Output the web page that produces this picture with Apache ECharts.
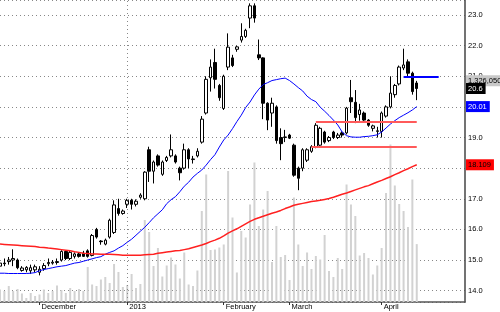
<!DOCTYPE html>
<html><head><meta charset="utf-8">
<script src="https://cdn.jsdelivr.net/npm/echarts/dist/echarts.min.js"></script>
<style>html,body{margin:0;padding:0;background:#fff}#c{width:500px;height:312px}</style>
</head><body><div id="c"></div>
<script>
// ---- data ----
const monthLabels = ['December', '2013', 'February', 'March', 'April'];
const monthIndex = [9, 29, 51, 66, 87];
const yearLineIndex = 29;
const slotCount = 107;

// [open, close, low, high]
const candles = [
[14.8,14.9,14.75,14.95],[14.9,14.88,14.8,15.05],[14.95,15.0,14.85,15.1],[15.0,15.05,14.8,15.35],[15.0,14.75,14.7,15.05],
[14.66,14.74,14.62,14.8],[14.68,14.76,14.6,14.8],[14.65,14.75,14.55,14.85],[14.68,14.78,14.6,14.85],[14.6,14.7,14.5,14.8],
[14.72,14.82,14.65,14.9],[14.88,14.92,14.8,15.05],[14.9,14.93,14.85,15.0],[14.92,14.95,14.85,15.05],[15.0,15.28,14.95,15.32],
[15.28,15.05,15.0,15.32],[15.05,15.25,15.0,15.3],[15.12,15.2,15.05,15.25],[15.2,15.12,15.08,15.25],[15.22,15.12,15.1,15.3],
[15.3,15.12,15.08,15.35],[15.15,15.8,15.12,15.85],[16.0,15.75,15.7,16.05],[15.62,15.6,15.5,15.65],[15.52,15.65,15.48,15.7],
[15.75,16.3,15.7,16.35],[15.9,16.8,15.85,16.95],[16.68,16.52,16.45,17.0],[16.52,16.6,16.48,16.65],[16.82,16.95,16.7,17.0],
[16.95,16.82,16.65,17.0],[16.82,16.92,16.75,16.98],[17.05,17.12,17.0,17.18],[17.0,17.87,16.95,17.9],[18.6,17.9,17.55,18.7],
[17.9,18.2,17.5,18.25],[18.4,18.1,18.05,18.45],[17.8,18.2,17.75,18.25],[18.25,18.35,18.2,18.4],[18.4,18.6,18.35,19.1],
[18.4,18.2,18.15,18.45],[18.0,17.85,17.6,18.05],[18.0,18.6,17.95,18.8],[18.6,18.3,18.0,18.65],[18.28,18.3,18.15,18.4],
[18.4,18.55,18.35,18.65],[18.85,19.6,18.8,19.7],[19.8,20.9,19.75,21.0],[20.95,21.3,20.5,21.55],[21.45,20.9,20.6,21.9],
[20.7,20.3,20.2,20.75],[19.95,21.0,19.9,21.05],[21.3,21.95,21.2,22.4],[21.6,21.35,21.3,21.7],[21.88,21.96,21.8,22.0],
[22.18,22.3,22.1,22.73],[22.3,22.5,22.25,22.55],[22.9,23.3,22.57,23.38],[23.3,22.9,22.75,23.38],[21.7,21.6,21.53,22.2],
[21.6,20.12,19.6,21.62],[20.12,19.57,19.24,20.15],[19.8,20.12,19.35,20.3],[20.0,18.9,18.8,20.05],[19.0,18.8,18.26,19.3],
[19.0,19.02,18.85,19.25],[19.08,18.98,18.95,19.12],[18.75,17.77,17.72,18.8],[18.0,17.67,17.28,18.05],[18.0,18.6,17.9,18.65],
[18.26,18.6,18.2,18.65],[18.55,18.7,18.5,18.75],[18.7,19.4,18.65,19.47],[18.75,19.3,18.7,19.35],[19.18,18.85,18.8,19.22],
[18.9,19.0,18.85,19.05],[19.18,19.0,18.95,19.22],[19.0,19.08,18.95,19.15],[19.15,19.08,19.0,19.2],[19.15,19.96,19.1,20.0],
[20.3,20.17,19.8,20.88],[20.15,19.65,19.47,20.55],[19.75,19.9,19.55,20.1],[19.8,19.57,19.5,19.85],[19.57,19.4,19.35,19.6],
[19.3,19.38,19.2,19.42],[19.2,19.22,19.0,19.35],[19.2,19.8,19.0,19.85],[19.7,20.0,19.65,20.05],[20.0,20.45,19.95,21.0],
[20.4,20.7,20.3,20.75],[20.75,21.3,20.7,21.35],[21.27,21.37,21.2,21.9],[21.47,21.1,21.0,21.55],[21.1,20.5,20.4,21.15],
[20.78,20.6,20.22,20.85]
];

// volume, thousands of shares
const volumeK = [
286,252,366,252,298,195,92,206,137,172,
286,206,252,378,275,206,321,252,298,252,
802,401,366,515,573,435,870,687,344,389,
641,321,412,1878,1603,824,1237,584,836,1019,
859,538,1134,401,366,721,2084,2920,1191,1202,
1248,1317,3000,1935,676,1626,1477,2233,3195,1740,
2118,2542,916,1740,1031,1076,504,2393,1317,824,
1134,756,1053,973,1534,710,573,1008,756,2691,
2233,1969,1065,1122,1008,630,836,1237,2496,3607,
2668,2244,2084,1718,2805,1326
];

const maFast = [
14.57,14.57,14.56,14.56,14.56,14.56,14.56,14.57,14.59,14.65,
14.69,14.72,14.75,14.78,14.80,14.82,14.86,14.90,14.92,14.96,
15.00,15.04,15.08,15.11,15.19,15.25,15.30,15.39,15.47,15.58,
15.68,15.81,15.94,16.07,16.22,16.38,16.51,16.64,16.84,16.97,
17.07,17.23,17.41,17.54,17.71,17.83,17.94,18.10,18.28,18.44,
18.69,18.92,19.08,19.29,19.52,19.73,19.98,20.16,20.39,20.58,
20.73,20.79,20.86,20.89,20.92,20.94,20.86,20.75,20.63,20.52,
20.35,20.24,20.17,19.99,19.86,19.72,19.57,19.41,19.18,19.06,
19.02,19.01,19.01,19.03,19.04,19.06,19.09,19.18,19.31,19.44,
19.55,19.65,19.73,19.81,19.90,20.01
];

const maSlow = [
15.52,15.51,15.50,15.49,15.48,15.47,15.46,15.45,15.44,15.42,
15.41,15.39,15.38,15.36,15.34,15.32,15.30,15.27,15.25,15.22,
15.21,15.20,15.20,15.19,15.19,15.19,15.18,15.17,15.16,15.16,
15.16,15.16,15.16,15.17,15.18,15.19,15.22,15.24,15.26,15.28,
15.30,15.31,15.34,15.37,15.41,15.45,15.49,15.54,15.60,15.65,
15.71,15.79,15.88,15.95,16.02,16.10,16.18,16.26,16.33,16.38,
16.43,16.48,16.53,16.57,16.62,16.68,16.73,16.79,16.82,16.85,
16.88,16.91,16.93,16.95,16.98,17.01,17.05,17.10,17.15,17.19,
17.24,17.29,17.34,17.39,17.43,17.49,17.55,17.60,17.66,17.72,
17.79,17.85,17.92,17.98,18.05,18.11
];

const lastClose = 20.6;
const lastFast = 20.01;
const lastSlow = 18.109;
const lastVolumeText = '1,326,050';
const volumeTagLevel = 20.85;
const redLevels = [{value: 19.5, from: 72, to: 95}, {value: 18.7, from: 71, to: 95}];
const blueLevels = [{value: 21.0, from: 92, to: 100}];

// ---- chart ----
const categories = Array.from({length: slotCount}, (_, i) => String(i));
const chart = echarts.init(document.getElementById('c'), null, {renderer: 'canvas'});
const FONT = 'Liberation Sans';
const tag = (v, text, bg, fg) => ({
  yAxis: v,
  lineStyle: {color: 'rgba(0,0,0,0)', width: 0},
  label: {show: true, position: 'end', distance: 1, formatter: text, backgroundColor: bg, color: fg,
          padding: [1, 3, 1, 2], fontSize: 7.5, fontFamily: FONT, lineHeight: 9}
});
const seg = (l, color) => [
  {coord: [categories[l.from], l.value], lineStyle: {color: color, width: 2, type: 'solid'}},
  {coord: [categories[l.to], l.value]}
];

chart.setOption({
  animation: false,
  backgroundColor: '#fff',
  grid: {left: 0, right: 35, top: 0, bottom: 10},
  xAxis: {
    type: 'category', data: categories, boundaryGap: false,
    axisLine: {show: true, lineStyle: {color: '#555', width: 1.5}},
    axisTick: {show: true, interval: (i) => monthIndex.includes(i), length: 3, lineStyle: {color: '#333'}},
    axisLabel: {
      interval: (i) => monthIndex.includes(i),
      formatter: (v) => { const j = monthIndex.indexOf(Number(v)); return j >= 0 ? monthLabels[j] : ''; },
      align: 'left', margin: 1, padding: [0, 0, 0, 2], fontSize: 7.5, color: '#000', fontFamily: FONT
    },
    splitLine: {show: false}
  },
  yAxis: [
    {
      type: 'value', position: 'right', min: 13.63, max: 23.49, splitNumber: 10, scale: true,
      axisLine: {show: true, lineStyle: {color: '#444', width: 1.5}},
      axisTick: {show: false},
      axisLabel: {formatter: (v) => v.toFixed(1), fontSize: 7.5, color: '#000', margin: 3, fontFamily: FONT,
                  showMinLabel: false, showMaxLabel: false},
      splitLine: {show: true, lineStyle: {color: '#888', type: [1, 3], width: 1}}
    },
    {type: 'value', show: false, min: 0, max: 6916, splitLine: {show: false}}
  ],
  series: [
    {
      name: 'Volume', type: 'bar', xAxisIndex: 0, yAxisIndex: 1, data: volumeK, barWidth: 2,
      itemStyle: {color: '#d2d2d2'}, z: 1, silent: true,
      markLine: {
        symbol: 'none', silent: true,
        label: {show: false},
        lineStyle: {color: '#888', type: [1, 3], width: 1},
        data: [{xAxis: categories[yearLineIndex]}]
      }
    },
    {
      name: 'Price', type: 'candlestick', data: candles, barWidth: 3, z: 3,
      itemStyle: {color: '#fff', color0: '#000', borderColor: '#000', borderColor0: '#000', borderWidth: 1},
      markLine: {
        symbol: 'none', silent: true,
        label: {show: false},
        data: [
          ...redLevels.map(l => seg(l, '#ff5a5a')),
          ...blueLevels.map(l => seg(l, '#0000ff')),
          tag(volumeTagLevel, lastVolumeText, '#c8c8c8', '#000'),
          tag(lastClose, String(lastClose), '#000', '#fff'),
          tag(lastFast, lastFast.toFixed(2), '#0000ff', '#fff'),
          tag(lastSlow, lastSlow.toFixed(3), '#ff0000', '#000')
        ]
      }
    },
    {name: 'MA fast', type: 'line', data: maFast, symbol: 'none', lineStyle: {color: '#0000ff', width: 1}, z: 4, silent: true},
    {name: 'MA slow', type: 'line', data: maSlow, symbol: 'none', lineStyle: {color: '#ff2020', width: 1.5}, z: 4, silent: true}
  ]
});
</script>
</body></html>
